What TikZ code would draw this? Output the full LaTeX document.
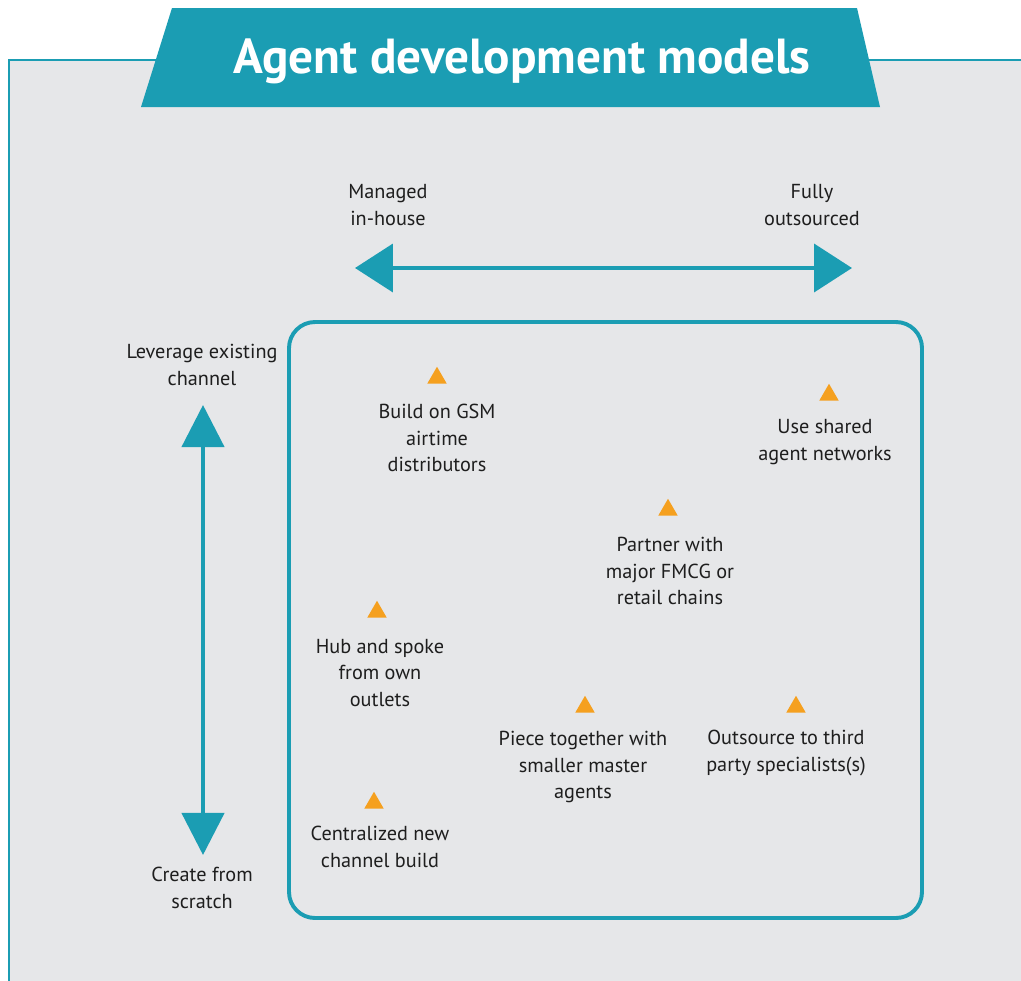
\documentclass[tikz,border=0pt]{standalone}
\usepackage{fontspec}
\setmainfont{PT Sans}
\usetikzlibrary{arrows.meta,shapes.geometric}
\definecolor{agentteal}{HTML}{1B9DB3}
\definecolor{agentgray}{HTML}{E6E7E9}
\definecolor{agentorange}{HTML}{F5A01F}
\definecolor{agenttext}{HTML}{1E1E1E}

\begin{document}
\begin{tikzpicture}[x=0.025cm,y=-0.025cm]
      \tikzstyle{every node}+=[inner sep=0pt]
      \tikzstyle{lbl}=[align=center,text=agenttext,font=\fontsize{14.4}{19}\selectfont]
      \tikzstyle{tri}=[regular polygon,regular polygon sides=3,minimum size=16pt,fill=agentorange]
      \tikzstyle{haxis}=[draw=agentteal,line width=3.2pt,{Triangle[length=27pt,width=34pt]}-{Triangle[length=27pt,width=34pt]}]
      \tikzstyle{vaxis}=[draw=agentteal,line width=3pt,{Triangle[length=30pt,width=30pt]}-{Triangle[length=30pt,width=30pt]}]
      \useasboundingbox (0,0) rectangle (1021,981);
      \fill [agentgray] (9,60) rectangle (1021,981);
      \draw [agentteal,line width=1.4pt] (9,981) -- (9,60) -- (1021,60);
      \fill [agentteal] (141,107) -- (172,8) -- (857,8) -- (880,107) -- cycle;
      \node [anchor=base,text=white,font=\fontsize{35}{40}\bfseries\selectfont] (title) at (522,73) {Agent development models};
      \coordinate (inhouse) at (355,268);
      \coordinate (outsourced) at (852,268);
      \draw [haxis] (inhouse) -- (outsourced);
      \node [lbl] (managed) at (388,205) {Managed\\in-house};
      \node [lbl] (fully) at (812,205) {Fully\\outsourced};
      \coordinate (leverage) at (203,405);
      \coordinate (scratch) at (203,855);
      \draw [vaxis] (leverage) -- (scratch);
      \node [lbl] (levtext) at (202,365) {Leverage existing\\channel};
      \node [lbl] (scrtext) at (202,888) {Create from\\scratch};
      \draw [agentteal,line width=2.8pt,rounded corners=0.65cm] (289,322) rectangle (922,918);
      \node [tri] (gsm) at (437,378) {};
      \node [lbl] (gsmtext) at (437,438) {Build on GSM\\airtime\\distributors};
      \node [tri] (shared) at (829,395) {};
      \node [lbl] (sharedtext) at (825,442) {Use shared\\agent networks};
      \node [tri] (fmcg) at (668,510) {};
      \node [lbl] (fmcgtext) at (670,571) {Partner with\\major FMCG or\\retail chains};
      \node [tri] (hub) at (377,612) {};
      \node [lbl] (hubtext) at (380,673) {Hub and spoke\\from own\\outlets};
      \node [tri] (piece) at (585,707) {};
      \node [lbl] (piecetext) at (583,767) {Piece together with\\smaller master\\agents};
      \node [tri] (third) at (796,707) {};
      \node [lbl] (thirdtext) at (786,753) {Outsource to third\\party specialists(s)};
      \node [tri] (central) at (374,803) {};
      \node [lbl] (centraltext) at (380,847) {Centralized new\\channel build};
\end{tikzpicture}
\end{document}
